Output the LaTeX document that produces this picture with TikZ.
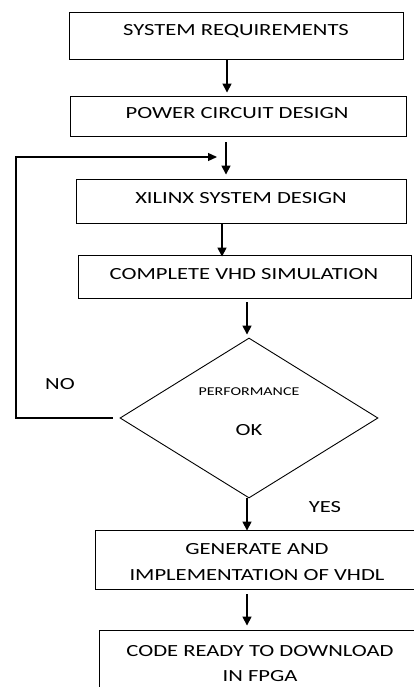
\documentclass[tikz,border=0pt]{standalone}
\usepackage{fontspec}
\setmainfont[FakeStretch=1.33]{Carlito}
\usetikzlibrary{arrows.meta,shapes.geometric}
\tikzset{
  box/.style={draw=black, line width=0.9pt, inner sep=0pt},
  lbl/.style={anchor=base, inner sep=0pt, font=\fontsize{17}{20}\selectfont},
  small/.style={anchor=base, inner sep=0pt, font=\fontsize{12}{14}\selectfont},
  arr/.style={line width=1.6pt, -{Triangle[width=9pt,length=9pt]}},
  loop/.style={line width=1.2pt, -{Triangle[width=8pt,length=9pt]}},
}
\begin{document}
\begin{tikzpicture}[x=1pt, y=-1pt]
\useasboundingbox (0,0) rectangle (414,687);

% process boxes
\node[box, minimum width=334pt, minimum height=47pt] (b1) at (236,35.5) {};
\node[box, minimum width=336pt, minimum height=40pt] (b2) at (238,116) {};
\node[box, minimum width=330pt, minimum height=44pt] (b3) at (241,201) {};
\node[box, minimum width=333pt, minimum height=43pt] (b4) at (244.5,276.5) {};
\node[draw=black, line width=0.9pt, diamond, inner sep=0pt,
      minimum width=258pt, minimum height=160pt] (d) at (249,418) {};
\node[box, minimum width=324pt, minimum height=59pt] (b5) at (257,559.5) {};
\node[box, minimum width=322pt, minimum height=70pt] (b6) at (260,665) {};

% box texts
\node[lbl] (t1) at (236,35.5) {SYSTEM REQUIREMENTS};
\node[lbl] (t2) at (237,119) {POWER CIRCUIT DESIGN};
\node[lbl] (t3) at (241,203) {XILINX SYSTEM DESIGN};
\node[lbl] (t4) at (244,279) {COMPLETE VHD SIMULATION};
\node[small] (t5) at (249,395) {PERFORMANCE};
\node[lbl] (t6) at (249,435) {OK};
\node[lbl] (t7) at (257,554) {GENERATE AND};
\node[lbl] (t8) at (257,580) {IMPLEMENTATION OF VHDL};
\node[lbl] (t9) at (260,656) {CODE READY TO DOWNLOAD};
\node[lbl] (t10) at (260,681) {IN FPGA};
\node[lbl] (no) at (60,389) {NO};
\node[lbl] (yes) at (325,512.5) {YES};

% connector columns
\coordinate (c1) at (227,0);
\coordinate (c2) at (226,0);
\coordinate (c3) at (222,0);
\coordinate (c4) at (247,0);
\coordinate (fbx) at (16,0);
\coordinate (fb) at (217,157);

\draw[arr, shorten <=1pt, shorten >=3pt] (b1.south -| c1) -- (b2.north -| c1);
\draw[arr, shorten <=6pt, shorten >=4pt] (b2.south -| c2) -- (b3.north -| c2);
\draw[arr, shorten >=-2pt] (b3.south -| c3) -- (b4.north -| c3);
\draw[arr, shorten <=4pt, shorten >=3pt] (b4.south -| c4) -- (d.north -| c4);
\draw[arr, shorten >=-1pt] (d.south -| c4) -- (b5.north -| c4);
\draw[arr, shorten <=5pt, shorten >=4pt] (b5.south -| c4) -- (b6.north -| c4);

% NO branch back to the design step
\draw[loop, shorten <=7pt] (d.west) -- (d.west -| fbx) |- (fb);
\end{tikzpicture}
\end{document}
